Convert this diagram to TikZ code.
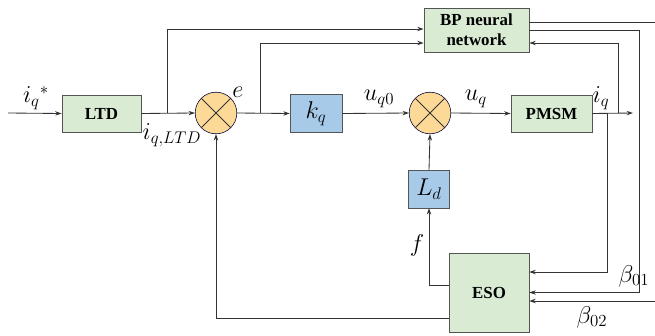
\documentclass[tikz,border=0pt]{standalone}
\usepackage{fontspec}
\setmainfont{Liberation Serif}
\usepackage{xcolor}
\usepackage{tikz}
\usetikzlibrary{shapes,arrows.meta,positioning,calc}
\definecolor{blockgreen}{HTML}{D9EBD3}
\definecolor{blockblue}{HTML}{A7CAE8}
\definecolor{sumorange}{HTML}{FDD998}
\definecolor{wire}{HTML}{333333}
\definecolor{rim}{HTML}{555555}

\begin{document}
\begin{tikzpicture}[x=0.025cm, y=-0.025cm,
    gbox/.style={rectangle, draw=rim, fill=blockgreen, minimum height=0.93cm, text centered, font=\large\bfseries, align=center, inner sep=1pt},
    bbox/.style={rectangle, draw=rim, fill=blockblue, minimum height=0.94cm, text centered, font=\LARGE},
    summer/.style={circle, draw=black!80!blue, fill=sumorange, minimum size=1.04cm, inner sep=0pt},
    arrow/.style={-{Stealth[length=1.6mm, width=1.1mm]}, semithick, wire},
    line/.style={semithick, wire},
    sig/.style={font=\LARGE}
]
    \useasboundingbox (0,0) rectangle (655,335);

    \node[gbox, minimum width=1.98cm] (ltd) at (101.5,113.5) {LTD};
    \node[summer] (sum1) at (216,113) {};
    \node[bbox, minimum width=1.3cm] (kq) at (316,113.5) {$k_q$};
    \node[summer] (sum2) at (430,113) {};
    \node[gbox, minimum width=2.03cm] (pmsm) at (551.5,113.5) {PMSM};
    \node[gbox, minimum width=2.63cm, minimum height=1.1cm] (bp) at (476.5,30) {BP neural\\network};
    \node[bbox, minimum width=1.03cm] (ld) at (429,189) {$L_d$};
    \node[gbox, minimum width=2cm, minimum height=1.98cm] (eso) at (489,292.5) {ESO};

    % crosses in the summing junctions
    \foreach \s in {sum1,sum2}{
        \draw[line] (\s.north east) -- (\s.south west);
        \draw[line] (\s.north west) -- (\s.south east);
    }

    \coordinate (in) at (8,113);
    \coordinate (out) at (633,113);
    \coordinate (j1) at (167,113);
    \coordinate (j2) at (260,113);
    \coordinate (j3) at (607,113);
    \coordinate (j4) at (618,113);

    % forward path
    \draw[arrow] (in) -- (ltd.west);
    \draw[arrow] (ltd.east) -- (sum1.west);
    \draw[arrow] (sum1.east) -- (kq.west);
    \draw[arrow] (kq.east) -- (sum2.west);
    \draw[arrow] (sum2.east) -- (pmsm.west);
    \draw[arrow] (pmsm.east) -- (out);

    % inputs of the BP network
    \draw[arrow] (j1) |- ($(bp.west)+(0,-1)$);
    \draw[arrow] (j2) |- ($(bp.west)+(0,13)$);
    \draw[arrow] (j4) |- ($(bp.east)+(0,13)$);

    % ESO inputs
    \draw[arrow] (j3) |- ($(eso.east)+(0,-20.5)$);
    \draw[arrow] (bp.east) -- ++(110,0) |- (eso.east);
    \draw[arrow] ($(bp.east)+(0,-8)$) -- ++(135,0) |- ($(eso.east)+(0,8.5)$);

    % ESO outputs
    \draw[arrow] ($(eso.west)+(0,-7.5)$) -| (ld.south);
    \draw[arrow] (ld.north) -- (sum2.south);
    \draw[arrow] ($(eso.west)+(0,25.5)$) -| (sum1.south);

    % signal labels
    \node[sig] (lblref) at (36,98) {$i_q{}^{*}$};
    \node[sig] (lblltd) at (172,135) {$i_{q,LTD}$};
    \node[sig] (lble) at (238,92) {$e$};
    \node[sig] (lbluq0) at (379,99) {$u_{q0}$};
    \node[sig] (lbluq) at (476,99) {$u_q$};
    \node[sig] (lbliq) at (601,98) {$i_q$};
    \node[sig] (lblf) at (417,245) {$f$};
    \node[sig] (lblb1) at (634,276) {$\beta_{01}$};
    \node[sig] (lblb2) at (592,317) {$\beta_{02}$};
\end{tikzpicture}
\end{document}
